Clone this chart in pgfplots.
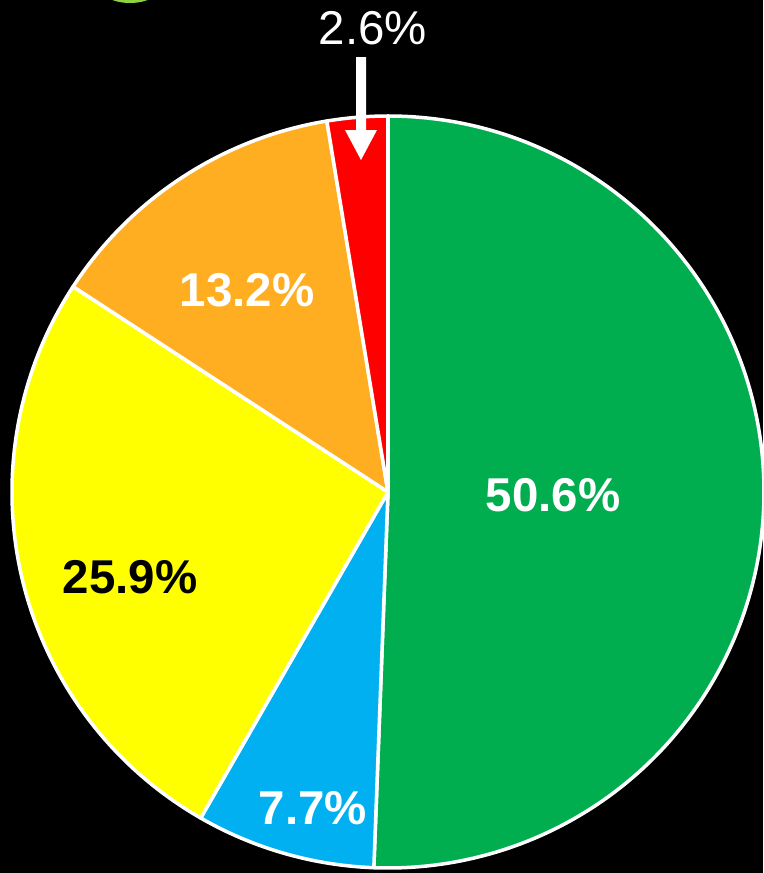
\documentclass[border=0pt]{standalone}
\usepackage{fontspec}
\setmainfont{Liberation Sans}
\usepackage{pgfplots}
\pgfplotsset{compat=1.18}

\definecolor{cgreen}{HTML}{00AE4F}
\definecolor{cblue}{HTML}{00B0F0}
\definecolor{cyellow}{HTML}{FFFF00}
\definecolor{corange}{HTML}{FFAE21}
\definecolor{cred}{HTML}{FF0000}
\definecolor{clime}{HTML}{8ED43F}

% pie centre (388,381), radius 376, in pixel units of the axis
\newcommand{\slice}[3]{%
  \filldraw[fill=#3, draw=white, line width=1pt, line join=round]
    (axis cs:388,381) -- (axis cs:{388+376*cos(#1)},{381+376*sin(#1)})
    arc[start angle=#1, end angle=#2, radius=376] -- cycle;}

\begin{document}
\begin{tikzpicture}
\fill[black] (0,0) rectangle (7.63,8.73);
\begin{axis}[
  at={(0,0)}, anchor=south west,
  scale only axis, width=7.63cm, height=8.73cm,
  xmin=0, xmax=763, ymin=0, ymax=873,
  hide axis, clip=true,
]
\fill[clime] (axis cs:130,888) ellipse[x radius=32, y radius=18];

% values in percent, clockwise from the top
\slice{90}{90-3.6*50.6}{cgreen}
\slice{90-3.6*50.6}{90-3.6*(50.6+7.7)}{cblue}
\slice{90-3.6*(50.6+7.7)}{90-3.6*(50.6+7.7+25.9)}{cyellow}
\slice{90-3.6*(50.6+7.7+25.9)}{90-3.6*(50.6+7.7+25.9+13.2)}{corange}
\slice{90-3.6*(50.6+7.7+25.9+13.2)}{90-3.6*100}{cred}

\node[white, font=\bfseries\fontsize{13.5}{16}\selectfont] at (axis cs:553,378) {50.6\%};
\node[white, font=\bfseries\fontsize{13.5}{16}\selectfont] at (axis cs:313,65) {7.7\%};
\node[black, font=\bfseries\fontsize{13.5}{16}\selectfont] at (axis cs:130,296) {25.9\%};
\node[white, font=\bfseries\fontsize{13.5}{16}\selectfont] at (axis cs:247,583) {13.2\%};
\node[white, font=\fontsize{13.5}{16}\selectfont] at (axis cs:373,845) {2.6\%};

% arrow to the small slice
\fill[white] (axis cs:356,816) -- (axis cs:366,816) -- (axis cs:366,743)
  -- (axis cs:377,743) -- (axis cs:361,713) -- (axis cs:345,743)
  -- (axis cs:356,743) -- cycle;
\end{axis}
\end{tikzpicture}
\end{document}
